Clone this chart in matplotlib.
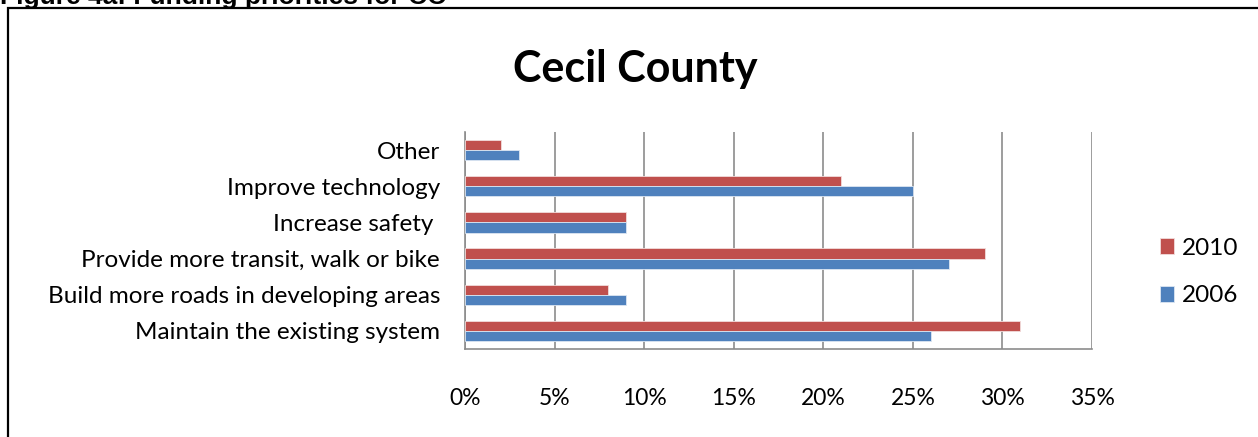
import matplotlib
matplotlib.use('Agg')
import matplotlib.pyplot as plt
import numpy as np
from matplotlib.patches import Rectangle

# survey answers, bottom to top
categories = ['Maintain the existing system', 'Build more roads in developing areas',
              'Provide more transit, walk or bike', 'Increase safety ',
              'Improve technology', 'Other']
share_2010 = [31, 8, 29, 9, 21, 2]
share_2006 = [26, 9, 27, 9, 25, 3]
xticks = [0, 5, 10, 15, 20, 25, 30, 35]

red = '#C0504D'
blue = '#4F81BD'
grid = '#8C8C8C'

plt.rcParams['font.family'] = ['Lato', 'DejaVu Sans']

fig = plt.figure(figsize=(12.58, 4.37), dpi=100)
W, H = 1258, 437

# caption line, mostly above the page edge
fig.text(0.0, 1 - 4 / H, 'Figure 4a: Funding priorities for CC', fontsize=19,
         fontweight='bold', family='Liberation Sans', ha='left', va='baseline')

# outer chart frame
fig.patches.append(Rectangle((8 / W, -0.1), 1.2, 1 - 8 / H + 0.1, transform=fig.transFigure,
                             fill=False, edgecolor='black', linewidth=1.6))

fig.text(635 / W, 1 - 69 / H, 'Cecil County', fontsize=31, fontweight='bold',
         ha='center', va='center')

ax = fig.add_axes([465 / W, 1 - 349 / H, (1092 - 465) / W, (349 - 132) / H])

y = np.arange(len(categories))
h = 0.28
ax.barh(y + h / 2, share_2010, height=h, color=red, edgecolor='#F2DCDB', linewidth=0.6, label='2010', zorder=3)
ax.barh(y - h / 2, share_2006, height=h, color=blue, edgecolor='#DCE6F2', linewidth=0.6, label='2006', zorder=3)

ax.set_xlim(0, 35)
ax.set_ylim(-0.5, len(categories) - 0.5)
ax.set_xticks(xticks)
ax.set_xticklabels([f'{t}%' for t in xticks], fontsize=16.5)
ax.set_yticks(y)
ax.set_yticklabels(categories, fontsize=17.5)
ax.tick_params(axis='x', length=0, pad=28)
ax.tick_params(axis='y', length=0, pad=18)

ax.grid(axis='x', color=grid, linewidth=1.2, zorder=0)
for side in ['top', 'right']:
    ax.spines[side].set_visible(False)
for side in ['left', 'bottom']:
    ax.spines[side].set_color(grid)
    ax.spines[side].set_linewidth(1.2)

fig.legend(handles=ax.get_legend_handles_labels()[0], labels=['2010', '2006'],
           loc='center left', bbox_to_anchor=(1138 / W, 1 - 272 / H), frameon=False,
           fontsize=17.5, handlelength=0.6, handleheight=0.6, handletextpad=0.3,
           labelspacing=1.1)

fig.savefig('out.png', dpi=100)
